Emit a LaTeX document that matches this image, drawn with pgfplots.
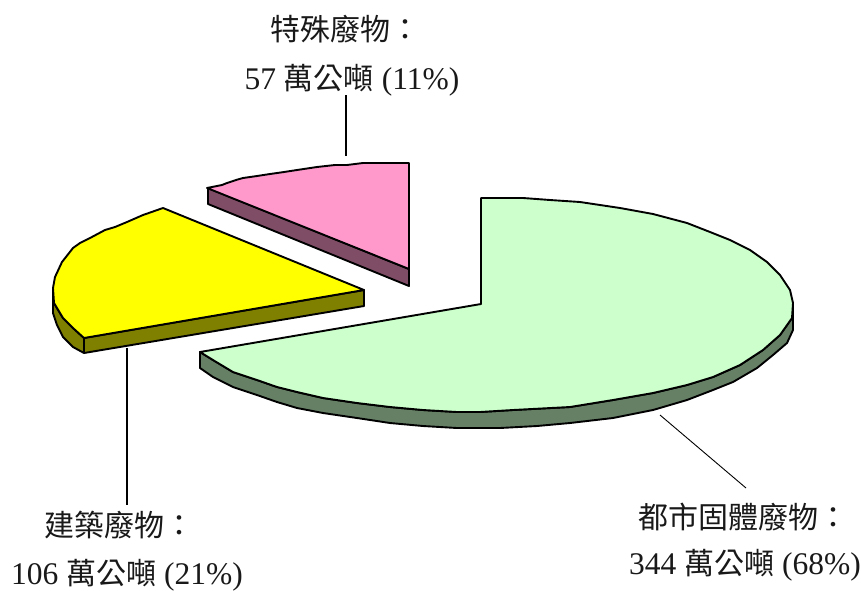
\documentclass[border=0pt]{standalone}
\usepackage{fontspec}
\setmainfont[Scale=1.05]{Liberation Serif}
\newfontfamily\cjk[Scale=1.0]{Noto Sans CJK TC}
\usepackage{pgfplots}
\pgfplotsset{compat=1.18}
\definecolor{pinktop}{HTML}{FF99CC}
\definecolor{pinkside}{HTML}{804D66}
\definecolor{yeltop}{HTML}{FFFF00}
\definecolor{yelside}{HTML}{808000}
\definecolor{grntop}{HTML}{CCFFCC}
\definecolor{grnside}{HTML}{668066}
\tikzset{lab/.style={font=\fontsize{30bp}{32bp}\selectfont, inner sep=0pt, anchor=center, text=black!90}}
\begin{document}
\begin{tikzpicture}
\begin{axis}[
  scale only axis, width=861bp, height=589bp,
  xmin=0, xmax=861, ymin=0, ymax=589, y dir=reverse,
  hide axis, clip=false,
  every axis plot/.append style={line width=1.9bp, line join=round},
]
\path (axis cs:0,0) (axis cs:861,589);
% leader lines
\addplot[black, line width=1.8bp] coordinates {(346,95) (346,156)};
\addplot[black, line width=1.8bp] coordinates {(127,348) (127,505)};
\addplot[black, line width=0.9bp] coordinates {(660,415) (746,488)};
% pink slice
\addplot[fill=pinkside, draw=black] coordinates {(208,188) (409,269) (409,286) (208,204)} -- cycle;
\addplot[fill=pinktop, draw=black] coordinates {(207,188) (222,185) (227,183) (236,180) (243,178) (257,176) (270,174) (284,172) (297,170) (317,167) (335,165) (347,165) (363,163) (409,163) (409,269)} -- cycle;
% yellow slice
\addplot[fill=yelside, draw=black] coordinates {(53,288) (54,303) (63,318) (73,328) (84,338) (364,290) (364,306) (84,353) (73,347) (63,337) (57,325) (53,313)} -- cycle;
\addplot[fill=yeltop, draw=black] coordinates {(163,208) (143,215) (127,222) (115,227) (105,230) (90,238) (80,243) (73,248) (62,262) (55,277) (53,288) (54,303) (63,318) (73,328) (84,338) (364,290)} -- cycle;
\addplot[draw=black] coordinates {(84,338) (84,353)};
% green slice
\addplot[fill=grnside, draw=black] coordinates {(200,352) (213,360) (233,372) (257,380) (277,387) (297,392) (323,398) (357,403) (390,407) (423,410) (457,412) (480,412) (513,410) (570,407) (613,400) (653,393) (687,385) (713,377) (740,365) (763,350) (780,335) (792,318) (793,303) (793,330) (787,343) (773,355) (757,368) (733,382) (713,390) (687,400) (653,410) (613,418) (570,423) (537,426) (500,428) (480,428) (457,428) (423,426) (390,423) (357,418) (323,413) (297,408) (277,402) (257,395) (233,387) (213,377) (200,368)} -- cycle;
\addplot[fill=grntop, draw=black] coordinates {(481,304) (200,352) (213,360) (233,372) (257,380) (277,387) (297,392) (323,398) (357,403) (390,407) (423,410) (457,412) (480,412) (513,410) (570,407) (613,400) (653,393) (687,385) (713,377) (740,365) (763,350) (780,335) (792,318) (793,303) (790,290) (780,275) (767,262) (750,250) (730,240) (710,232) (687,223) (653,214) (620,208) (580,202) (550,200) (523,198) (481,198)} -- cycle;
% labels
\node[lab] at (axis cs:345,29) {{\cjk 特殊廢物：}};
\node[lab] at (axis cs:352,80) {57 {\cjk 萬公噸} (11\%)};
\node[lab] at (axis cs:119,525) {{\cjk 建築廢物：}};
\node[lab] at (axis cs:127,575) {106 {\cjk 萬公噸} (21\%)};
\node[lab] at (axis cs:743,517) {{\cjk 都市固體廢物：}};
\node[lab] at (axis cs:745,565) {344 {\cjk 萬公噸} (68\%)};
\end{axis}
\end{tikzpicture}
\end{document}
